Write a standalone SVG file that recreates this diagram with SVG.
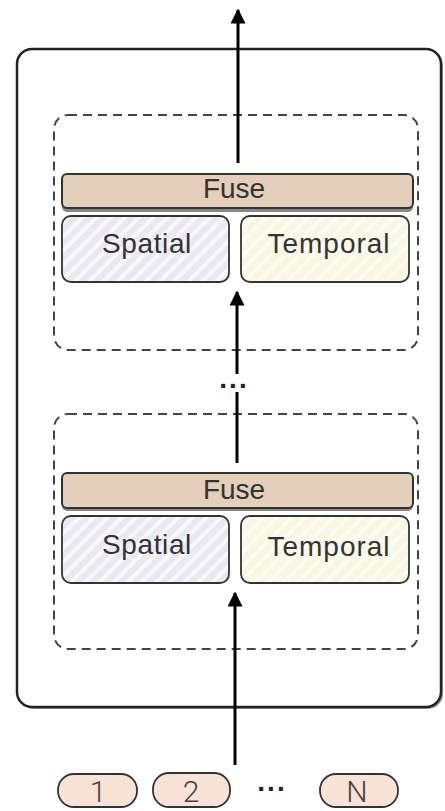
<svg xmlns="http://www.w3.org/2000/svg" width="445" height="811" viewBox="0 0 445 811">
<defs>
<pattern id="hatchS" patternUnits="userSpaceOnUse" width="10" height="10" patternTransform="rotate(45)">
<rect width="10" height="10" fill="#ebe8f3"/>
<rect width="4" height="10" fill="#f8f7fb"/>
</pattern>
<pattern id="hatchT" patternUnits="userSpaceOnUse" width="10" height="10" patternTransform="rotate(45)">
<rect width="10" height="10" fill="#f9f6e1"/>
<rect width="4" height="10" fill="#fdfcf2"/>
</pattern>
<marker id="ah" viewBox="0 0 10 10" refX="9" refY="5" markerWidth="5" markerHeight="5" orient="auto" markerUnits="strokeWidth">
<path d="M0,0 L10,5 L0,10 Z" fill="#000"/>
</marker>
</defs>
<style>
.outer{fill:#fff;stroke:#222;stroke-width:2.5}
.dash{fill:none;stroke:#444;stroke-width:2;stroke-dasharray:9,6}
.fuse{fill:#e3cfba;stroke:#333;stroke-width:2}
.sp{fill:url(#hatchS);stroke:#333;stroke-width:1.8}
.tp{fill:url(#hatchT);stroke:#333;stroke-width:1.8}
.tok{fill:#f8e3d6;stroke:#333;stroke-width:1.8}
.lbl{font-family:"Liberation Sans",Arial,sans-serif;font-size:28px;fill:#333;text-anchor:middle}
.tlbl{font-family:Roboto,"DejaVu Sans",sans-serif;font-weight:300;font-size:30px;fill:#444;text-anchor:middle}
.conn{stroke:#000;stroke-width:3;fill:none}
.dots{font-family:"Liberation Sans",Arial,sans-serif;font-size:28px;font-weight:bold;fill:#222;text-anchor:middle;letter-spacing:2px}
</style>
<g id="outer">
<rect x="19" y="51" width="424" height="658" rx="15" fill="#999"/>
<rect class="outer" x="17" y="49" width="424" height="658" rx="15"/>
</g>
<g id="block-top">
<rect class="dash" x="54" y="115" width="364" height="235" rx="14"/>
<g id="fuse-top">
<rect x="62" y="177" width="351" height="35" rx="5" fill="#888"/>
<rect class="fuse" x="62" y="174" width="351" height="34" rx="5"/>
<text class="lbl" x="234" y="198">Fuse</text>
</g>
<g id="spatial-top">
<rect class="sp" x="62" y="216" width="167" height="66" rx="9"/>
<text class="lbl" x="147" y="253" letter-spacing="0.6">Spatial</text>
</g>
<g id="temporal-top">
<rect class="tp" x="241" y="216" width="168" height="66" rx="9"/>
<text class="lbl" x="329" y="253" letter-spacing="1">Temporal</text>
</g>
</g>
<g id="block-bottom">
<rect class="dash" x="54" y="414" width="364" height="235" rx="14"/>
<g id="fuse-bottom">
<rect x="62" y="476" width="351" height="35" rx="5" fill="#888"/>
<rect class="fuse" x="62" y="473" width="351" height="35" rx="5"/>
<text class="lbl" x="234" y="499">Fuse</text>
</g>
<g id="spatial-bottom">
<rect class="sp" x="62" y="516" width="167" height="67" rx="9"/>
<text class="lbl" x="147" y="554" letter-spacing="0.6">Spatial</text>
</g>
<g id="temporal-bottom">
<rect class="tp" x="241" y="516" width="168" height="67" rx="9"/>
<text class="lbl" x="329" y="556" letter-spacing="1">Temporal</text>
</g>
</g>
<g id="tokens">
<g id="tok1"><rect class="tok" x="58" y="774" width="79" height="33" rx="16"/><text class="tlbl" x="98" y="802">1</text></g>
<g id="tok2"><rect class="tok" x="153" y="773" width="77" height="34" rx="16"/><text class="tlbl" x="191" y="802">2</text></g>
<text class="dots" x="272" y="791">...</text>
<g id="tokN"><rect class="tok" x="320" y="774" width="78" height="33" rx="16"/><text class="tlbl" x="357" y="802">N</text></g>
</g>
<g id="connectors">
<line class="conn" x1="238" y1="163" x2="238" y2="10" marker-end="url(#ah)"/>
<line class="conn" x1="237" y1="374" x2="237" y2="292" marker-end="url(#ah)"/>
<line class="conn" x1="237" y1="463" x2="237" y2="392"/>
<line class="conn" x1="235" y1="765" x2="235" y2="593" marker-end="url(#ah)"/>
<text class="dots" x="234" y="388">...</text>
</g>
</svg>
